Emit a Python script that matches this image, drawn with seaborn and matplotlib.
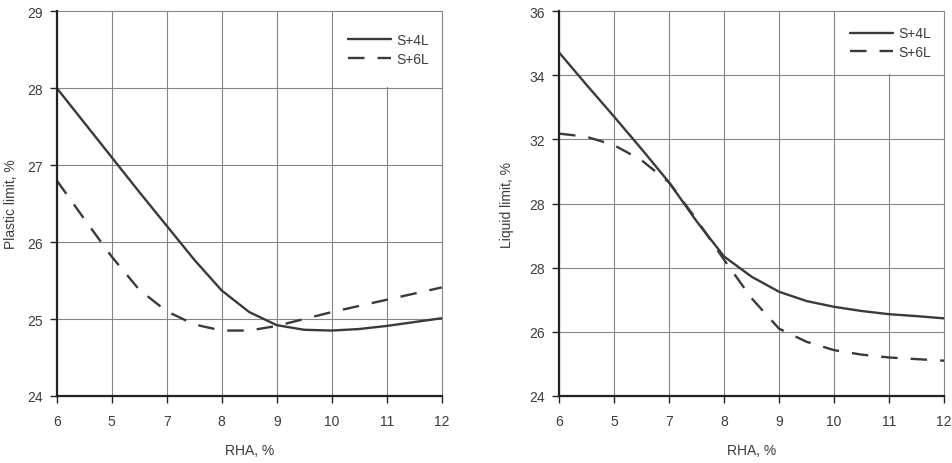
import matplotlib
matplotlib.use("Agg")
import matplotlib.pyplot as plt
import seaborn as sns
import pandas as pd
from matplotlib.patches import Rectangle

# ---- data ----
x_pos = [0, 0.5, 1, 1.5, 2, 2.5, 3, 3.5, 4, 4.5, 5, 5.5, 6, 6.5, 7]
x_labels = ["6", "5", "7", "8", "9", "10", "11", "12"]

plastic_s4l = [28.0, 27.55, 27.10, 26.65, 26.21, 25.77, 25.37, 25.09, 24.92,
               24.86, 24.85, 24.87, 24.91, 24.96, 25.01]
plastic_s6l = [26.80, 26.30, 25.81, 25.38, 25.10, 24.93, 24.85, 24.85, 24.91,
               25.00, 25.09, 25.17, 25.25, 25.33, 25.41]

liquid_s4l = [34.71, 33.70, 32.71, 31.70, 30.66, 29.45, 28.35, 27.72, 27.25,
              26.96, 26.78, 26.65, 26.55, 26.49, 26.42]
liquid_s6l = [32.18, 32.08, 31.82, 31.35, 30.66, 29.50, 28.25, 27.05, 26.10,
              25.69, 25.43, 25.29, 25.20, 25.15, 25.10]

plastic_yticks = [24, 25, 26, 27, 28, 29]
plastic_ylabels = ["24", "25", "26", "27", "28", "29"]
liquid_yticks = [24, 26, 28, 30, 32, 34, 36]
liquid_ylabels = ["24", "26", "28", "28", "32", "34", "36"]

series_names = ["S+4L", "S+6L"]

sns.set_theme(style="white")
plt.rcParams["font.family"] = ["Liberation Sans", "DejaVu Sans"]

fig = plt.figure(figsize=(9.52, 4.64), dpi=100)
ax1 = fig.add_axes([0.0596, 0.1444, 0.4044, 0.8297])
ax2 = fig.add_axes([0.5872, 0.1444, 0.4044, 0.8297])

line_col = "#3a3a3a"
txt_col = "#3c3c3c"


def draw(ax, s4, s6, yticks, ylabels, ylabel, ylabelpad, leg_anchor, rect):
    df = pd.DataFrame({
        "x": x_pos + x_pos,
        "y": s4 + s6,
        "series": [series_names[0]] * len(x_pos) + [series_names[1]] * len(x_pos),
    })
    sns.lineplot(data=df, x="x", y="y", style="series",
                 dashes={"S+4L": "", "S+6L": (7, 5.5)},
                 color=line_col, linewidth=1.7, ax=ax, zorder=4)
    for ln in ax.get_lines():
        ln.set_solid_joinstyle("round")
        ln.set_dash_joinstyle("round")
    ax.set_xlim(0, 7)
    ax.set_ylim(yticks[0], yticks[-1])
    ax.set_xticks(range(len(x_labels)))
    ax.set_xticklabels(x_labels)
    ax.set_yticks(yticks)
    ax.set_yticklabels(ylabels)
    ax.grid(True, color="#858585", linewidth=0.8)
    ax.set_axisbelow(True)
    for gl in ax.get_xgridlines() + ax.get_ygridlines():
        gl.set_clip_on(False)
    for s in ["top", "right"]:
        ax.spines[s].set_visible(False)
    for s in ["left", "bottom"]:
        ax.spines[s].set_color("#222222")
        ax.spines[s].set_linewidth(1.6)
        ax.spines[s].set_zorder(5)
    ax.tick_params(axis="both", bottom=True, left=True, direction="out",
                   length=5, width=1.0, color="#222222",
                   labelcolor=txt_col, labelsize=10)
    ax.tick_params(axis="x", pad=8)
    ax.tick_params(axis="y", pad=5)
    ax.set_xlabel("RHA, %", fontsize=10, color=txt_col, labelpad=11)
    ax.set_ylabel(ylabel, fontsize=10, color=txt_col, labelpad=ylabelpad)
    # white box behind legend
    ax.add_patch(Rectangle((rect[0], rect[1]), rect[2], rect[3],
                           transform=ax.transAxes, facecolor="white",
                           edgecolor="none", zorder=2))
    handles, labels = ax.get_legend_handles_labels()
    leg = ax.legend(handles, labels, loc="upper left", bbox_to_anchor=leg_anchor,
                    borderaxespad=0, borderpad=0, frameon=False,
                    handlelength=3.1, handletextpad=0.4, labelspacing=0.3,
                    fontsize=10)
    for t in leg.get_texts():
        t.set_color(txt_col)
    leg.set_zorder(6)


draw(ax1, plastic_s4l, plastic_s6l, plastic_yticks, plastic_ylabels,
     "Plastic limit, %", 7, (0.756, 0.942), (0.718, 0.803, 0.278, 0.194))
draw(ax2, liquid_s4l, liquid_s6l, liquid_yticks, liquid_ylabels,
     "Liquid limit, %", 11, (0.756, 0.960), (0.719, 0.837, 0.278, 0.160))

fig.savefig("out.png", dpi=100)
